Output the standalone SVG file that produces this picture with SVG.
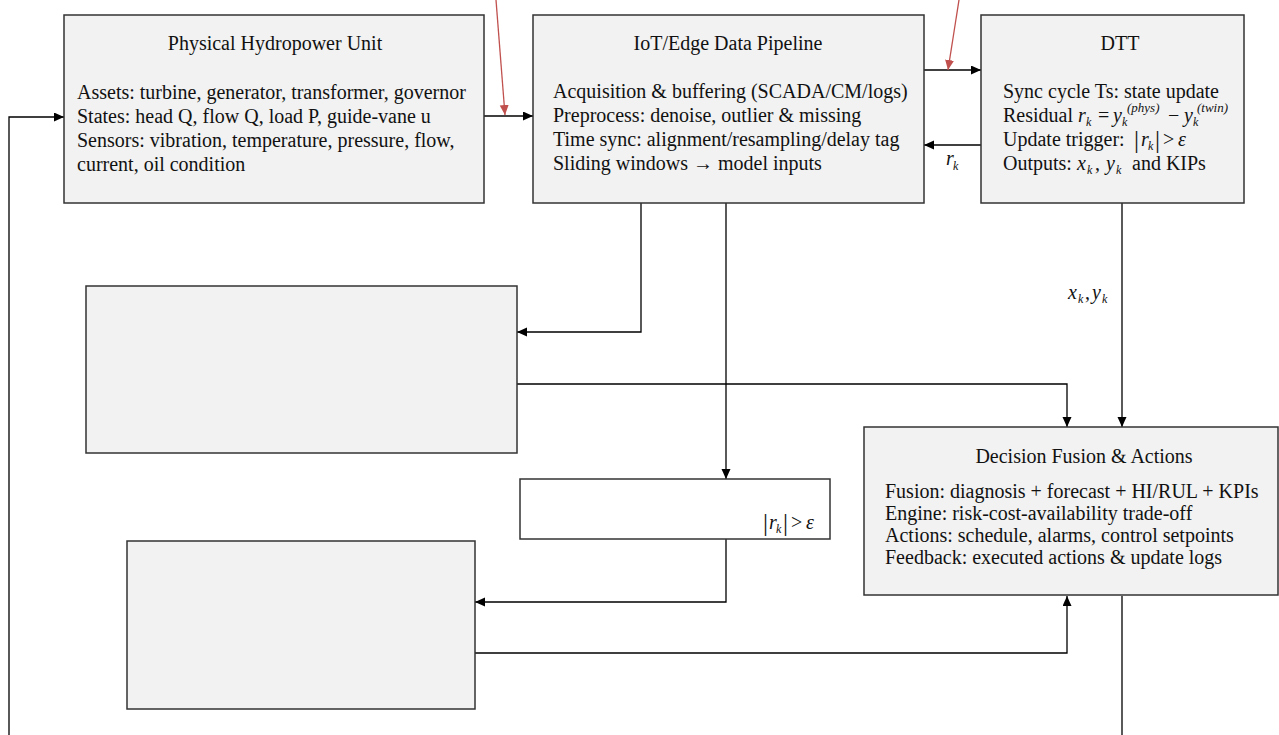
<svg xmlns="http://www.w3.org/2000/svg" width="1279" height="735" viewBox="0 0 1279 735">
  <style>
    .box{fill:#f2f2f2;stroke:#333;stroke-width:1.5}
    .plain{fill:#fff;stroke:#333;stroke-width:1.5}
    .t{font-family:"Liberation Serif","Times New Roman",serif;font-size:20px;fill:#111}
    .mid{text-anchor:middle}
    .m{font-family:"Liberation Serif","Times New Roman",serif;font-style:italic;font-size:20px;fill:#111}
    .op{font-family:"Liberation Serif","Times New Roman",serif;font-size:20px;fill:#111}
    .sub{font-family:"Liberation Serif","Times New Roman",serif;font-style:italic;font-size:12px;fill:#111}
    .sup{font-family:"Liberation Serif","Times New Roman",serif;font-style:italic;font-size:13px;fill:#111}
    .bar{font-family:"Liberation Serif","Times New Roman",serif;font-size:25px;fill:#111}
    .wire{fill:none;stroke:#000;stroke-width:1.3}
    .red{fill:none;stroke:#c0504d;stroke-width:1.3}
  </style>
  <defs>
    <marker id="arr" markerUnits="userSpaceOnUse" markerWidth="10" markerHeight="10" refX="10" refY="4.5" orient="auto">
      <path d="M0,0 L10,4.5 L0,9 z" fill="#000"/>
    </marker>
    <marker id="arrRed" markerUnits="userSpaceOnUse" markerWidth="10" markerHeight="10" refX="10" refY="4.5" orient="auto">
      <path d="M0,0 L10,4.5 L0,9 z" fill="#c0504d"/>
    </marker>
  </defs>

  <rect width="1279" height="735" fill="#fff"/>

  <!-- connectors -->
  <g id="connectors">
    <!-- physical unit -> pipeline -->
    <path class="wire" d="M484,116 H533" marker-end="url(#arr)"/>
    <!-- pipeline -> DTT -->
    <path class="wire" d="M924,70 H981" marker-end="url(#arr)"/>
    <!-- DTT residual back to pipeline -->
    <path class="wire" d="M981,145 H924" marker-end="url(#arr)"/>
    <!-- DTT states to decision -->
    <path class="wire" d="M1122,203 V427" marker-end="url(#arr)"/>
    <!-- pipeline to upper left block -->
    <path class="wire" d="M641,203 V332 H517" marker-end="url(#arr)"/>
    <!-- pipeline to trigger block -->
    <path class="wire" d="M726,203 V479" marker-end="url(#arr)"/>
    <!-- upper left block to decision -->
    <path class="wire" d="M517,384 H1067 V427" marker-end="url(#arr)"/>
    <!-- trigger block to lower left block -->
    <path class="wire" d="M726,539 V602 H475" marker-end="url(#arr)"/>
    <!-- lower left block to decision -->
    <path class="wire" d="M475,653 H1067 V596" marker-end="url(#arr)"/>
    <!-- decision feedback down and around -->
    <path class="wire" d="M1122,596 V735"/>
    <path class="wire" d="M9,735 V117 H64" marker-end="url(#arr)"/>
    <!-- external inputs -->
    <path class="red" d="M496,0 L505,115" marker-end="url(#arrRed)"/>
    <path class="red" d="M959,0 L948,70" marker-end="url(#arrRed)"/>
    <!-- connector labels -->
    <text class="m" x="946" y="165">r</text><text class="sub" x="953" y="170">k</text>
    <text class="m" x="1068" y="299">x</text><text class="sub" x="1078" y="303">k</text>
    <text class="op" x="1085" y="299">,</text>
    <text class="m" x="1092" y="299">y</text><text class="sub" x="1102" y="303">k</text>
  </g>

  <g id="physical">
    <rect class="box" x="64" y="15" width="420" height="188"/>
    <text class="t mid" x="275" y="50">Physical Hydropower Unit</text>
    <text class="t" x="77" y="99">Assets: turbine, generator, transformer, governor</text>
    <text class="t" x="77" y="123">States: head Q, flow Q, load P, guide-vane u</text>
    <text class="t" x="77" y="147">Sensors: vibration, temperature, pressure, flow,</text>
    <text class="t" x="77" y="171">current, oil condition</text>
  </g>

  <g id="pipeline">
    <rect class="box" x="533" y="15" width="391" height="188"/>
    <text class="t mid" x="728" y="50">IoT/Edge Data Pipeline</text>
    <text class="t" x="553" y="98">Acquisition &amp; buffering (SCADA/CM/logs)</text>
    <text class="t" x="553" y="122">Preprocess: denoise, outlier &amp; missing</text>
    <text class="t" x="553" y="146">Time sync: alignment/resampling/delay tag</text>
    <text class="t" x="553" y="170">Sliding windows → model inputs</text>
  </g>

  <g id="dtt">
    <rect class="box" x="981" y="15" width="263" height="188"/>
    <text class="t mid" x="1120" y="50">DTT</text>
    <text class="t" x="1003" y="98">Sync cycle Ts: state update</text>
    <text class="t" x="1003" y="122">Residual</text>
    <text class="m" x="1078" y="122">r</text><text class="sub" x="1086" y="126">k</text>
    <text class="op" x="1098" y="122">=</text>
    <text class="m" x="1113" y="122">y</text><text class="sub" x="1122" y="126">k</text>
    <text class="sup" x="1127" y="112">(phys)</text>
    <text class="op" x="1168" y="122">−</text>
    <text class="m" x="1184" y="122">y</text><text class="sub" x="1193" y="126">k</text>
    <text class="sup" x="1197" y="112">(twin)</text>
    <text class="t" x="1003" y="146">Update trigger:</text>
    <text class="bar" x="1134" y="148">|</text>
    <text class="m" x="1141" y="146">r</text><text class="sub" x="1148" y="150">k</text>
    <text class="bar" x="1155" y="148">|</text>
    <text class="op" x="1163" y="146">&gt;</text>
    <text class="m" x="1178" y="146">ε</text>
    <text class="t" x="1003" y="170">Outputs:</text>
    <text class="m" x="1077" y="170">x</text><text class="sub" x="1087" y="174">k</text>
    <text class="op" x="1095" y="170">,</text>
    <text class="m" x="1106" y="170">y</text><text class="sub" x="1116" y="174">k</text>
    <text class="t" x="1132" y="170">and KIPs</text>
  </g>

  <g id="block-upper">
    <rect class="box" x="86" y="286" width="431" height="167"/>
  </g>

  <g id="trigger">
    <rect class="plain" x="520" y="479" width="310" height="60"/>
    <text class="bar" x="763" y="531">|</text>
    <text class="m" x="769" y="529">r</text><text class="sub" x="776" y="533">k</text>
    <text class="bar" x="783" y="531">|</text>
    <text class="op" x="791" y="529">&gt;</text>
    <text class="m" x="806" y="529">ε</text>
  </g>

  <g id="block-lower">
    <rect class="box" x="127" y="541" width="348" height="168"/>
  </g>

  <g id="decision">
    <rect class="box" x="864" y="427" width="414" height="168"/>
    <text class="t mid" x="1084" y="463">Decision Fusion &amp; Actions</text>
    <text class="t" x="885" y="498">Fusion: diagnosis + forecast + HI/RUL + KPIs</text>
    <text class="t" x="885" y="520">Engine: risk-cost-availability trade-off</text>
    <text class="t" x="885" y="542">Actions: schedule, alarms, control setpoints</text>
    <text class="t" x="885" y="564">Feedback: executed actions &amp; update logs</text>
  </g>
</svg>
